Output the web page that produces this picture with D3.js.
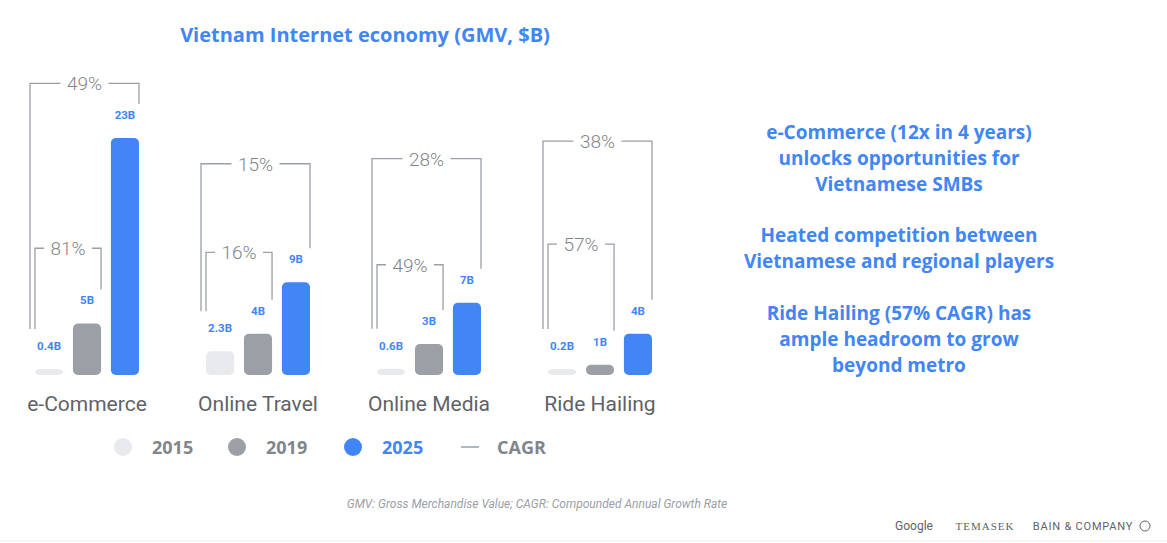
<!DOCTYPE html><html><head><meta charset="utf-8">
<script src="https://cdn.jsdelivr.net/npm/d3@7"></script>
<style>body{margin:0;background:#fff;font-family:Roboto,"Open Sans",sans-serif}</style></head><body>
<svg id="c" width="1167" height="543"></svg>
<script>
const categories=["e-Commerce","Online Travel","Online Media","Ride Hailing"];
const years=["2015","2019","2025"];
const v2015=[0.4,2.3,0.6,0.2];
const v2019=[5,4,3,1];
const v2025=[23,9,7,4];
const labels2015=["0.4B","2.3B","0.6B","0.2B"];
const labels2019=["5B","4B","3B","1B"];
const labels2025=["23B","9B","7B","4B"];
const cagrLong=["49%","15%","28%","38%"];
const cagrShort=["81%","16%","49%","57%"];
const levelLong=[28.3,20.5,21,22.7];
const levelShort=[12.3,11.9,10.7,12.7];
const colors=["#E8EAED","#9AA0A6","#4285F4"];
const svg=d3.select("#c");
const base=375;
const bold="'Open Sans',Roboto,sans-serif";
const y=d3.scaleLinear().domain([0,23]).range([base,base-237]);
const x0=d3.scaleBand().domain(categories).range([20,704]).paddingInner(0);
const x1=d3.scaleBand().domain(years).range([15,119]).paddingInner(0.26);
const vals=[v2015,v2019,v2025],labs=[labels2015,labels2019,labels2025];
svg.append("text").attr("x",365).attr("y",42).attr("text-anchor","middle").attr("fill","#4285F4").attr("font-size",20).attr("font-family",bold).attr("font-weight",700).text("Vietnam Internet economy (GMV, $B)");
const lc="#9AA0A6";
categories.forEach((c,i)=>{
  const g=svg.append("g").attr("transform",`translate(${x0(c)},0)`);
  const bw=x1.bandwidth();
  years.forEach((yr,j)=>{
    const v=vals[j][i];const top=Math.min(y(v),base-6);
    g.append("rect").attr("x",x1(yr)).attr("y",top).attr("width",bw).attr("height",base-top).attr("rx",5).attr("fill",colors[j]);
    g.append("text").attr("x",x1(yr)+bw/2).attr("y",top-19).attr("text-anchor","middle").attr("fill","#4285F4").attr("font-size",11.5).attr("font-weight",700).text(labs[j][i]);
  });
  const leftEnd=Math.min(y(vals[0][i]),base-6)-40;
  const lx=x1("2015")-5, rx=x1("2025")+bw, ty=y(levelLong[i]);
  const ry=Math.min(y(v2025[i]),base-6)-34;
  const drawB=(lx,rx,ty,ly,ry,t)=>{
    const m=(lx+rx)/2;
    g.append("path").attr("d",`M${lx},${ly}V${ty}H${m-24}M${m+24},${ty}H${rx}V${ry}`).attr("fill","none").attr("stroke",lc).attr("stroke-width",1.3);
    g.append("text").attr("x",m).attr("y",ty+7).attr("text-anchor","middle").attr("fill","#80868B").attr("font-size",19).attr("font-weight",300).text(t);
  };
  drawB(lx,rx,ty,leftEnd,ry,cagrLong[i]);
  drawB(x1("2015"),x1("2019")+bw,y(levelShort[i]),leftEnd,Math.min(y(v2019[i]),base-6)-34,cagrShort[i]);
  g.append("text").attr("x",x1("2019")+bw/2).attr("y",411).attr("text-anchor","middle").attr("fill","#5F6368").attr("font-size",21).text(c);
});
const leg=[["2015",colors[0],123],["2019",colors[1],237],["2025",colors[2],353]];
leg.forEach(([t,c,lx])=>{
  svg.append("circle").attr("cx",lx).attr("cy",447).attr("r",9).attr("fill",c);
  svg.append("text").attr("x",lx+29).attr("y",454).attr("fill",t==="2025"?"#4285F4":"#80868B").attr("font-size",18).attr("font-family",bold).attr("font-weight",700).text(t);
});
svg.append("line").attr("x1",461).attr("x2",479).attr("y1",447).attr("y2",447).attr("stroke",lc).attr("stroke-width",1.5);
svg.append("text").attr("x",497).attr("y",454).attr("fill","#80868B").attr("font-size",18).attr("font-family",bold).attr("font-weight",700).text("CAGR");
const right=[["e-Commerce (12x in 4 years)","unlocks opportunities for","Vietnamese SMBs"],["Heated competition between","Vietnamese and regional players"],["Ride Hailing (57% CAGR) has","ample headroom to grow","beyond metro"]];
const starts=[139,242,320];
right.forEach((b,k)=>b.forEach((t,j)=>svg.append("text").attr("x",899).attr("y",starts[k]+j*26).attr("text-anchor","middle").attr("fill","#4285F4").attr("font-size",19).attr("font-family",bold).attr("font-weight",700).text(t)));
svg.append("text").attr("x",537).attr("y",508).attr("text-anchor","middle").attr("fill","#9AA0A6").attr("font-size",12).attr("font-style","italic").text("GMV: Gross Merchandise Value; CAGR: Compounded Annual Growth Rate");
svg.append("text").attr("x",914).attr("y",530).attr("text-anchor","middle").attr("fill","#5F6368").attr("font-size",12).text("Google");
svg.append("text").attr("x",985).attr("y",530).attr("text-anchor","middle").attr("fill","#5F6368").attr("font-size",11).attr("font-family","Liberation Serif").attr("letter-spacing",1).text("TEMASEK");
svg.append("text").attr("x",1083).attr("y",530).attr("text-anchor","middle").attr("fill","#5F6368").attr("font-size",11).attr("letter-spacing",0.8).text("BAIN & COMPANY");
svg.append("circle").attr("cx",1145).attr("cy",526).attr("r",5).attr("fill","none").attr("stroke","#5F6368");
svg.append("line").attr("x1",0).attr("x2",1167).attr("y1",541).attr("y2",541).attr("stroke","#eee");
</script></body></html>
